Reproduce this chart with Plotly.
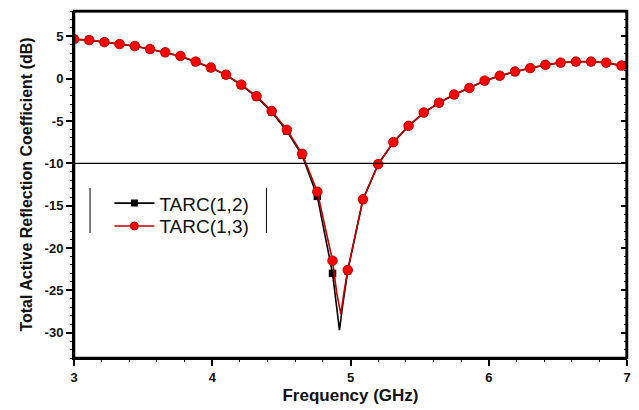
import plotly.graph_objects as go

# Frequency points where symbols are placed (GHz)
freq_marks = [3.00, 3.11, 3.22, 3.33, 3.44, 3.55, 3.66, 3.77, 3.88, 3.99,
              4.10, 4.21, 4.32, 4.43, 4.54, 4.65, 4.76, 4.87, 4.98, 5.09,
              5.20, 5.31, 5.42, 5.53, 5.64, 5.75, 5.86, 5.97, 6.08, 6.19,
              6.30, 6.41, 6.52, 6.63, 6.74, 6.85, 6.96]

# TARC(1,2) at the symbol points (dB)
tarc12_marks = [4.67, 4.56, 4.32, 4.09, 3.84, 3.48, 3.10, 2.66, 1.98, 1.28,
                0.42, -0.76, -2.14, -3.92, -6.18, -9.05, -13.9, -23.0, -22.7, -14.3,
                -10.1, -7.5, -5.6, -4.02, -2.86, -1.9, -1.12, -0.26, 0.33, 0.83,
                1.23, 1.62, 1.88, 2.0, 2.0, 1.88, 1.55]

# TARC(1,3) at the symbol points (dB)
tarc13_marks = [4.67, 4.56, 4.32, 4.09, 3.86, 3.50, 3.12, 2.69, 2.02, 1.32,
                0.47, -0.70, -2.07, -3.82, -6.04, -8.88, -13.35, -21.5, -22.6, -14.25,
                -10.1, -7.5, -5.57, -4.0, -2.84, -1.87, -1.09, -0.23, 0.35, 0.85,
                1.25, 1.64, 1.90, 2.02, 2.02, 1.90, 1.55]

# Extra curve samples around the resonance and the band edge
tarc12_extra_f = [4.90, 4.92, 4.945, 7.00]
tarc12_extra_v = [-27.0, -29.7, -26.6, 1.45]
tarc13_extra_f = [4.90, 4.93, 4.955, 7.00]
tarc13_extra_v = [-25.3, -27.8, -25.0, 1.45]

x_ticks = [3, 4, 5, 6, 7]
x_minor_ticks = [3.2, 3.4, 3.6, 3.8, 4.2, 4.4, 4.6, 4.8,
                 5.2, 5.4, 5.6, 5.8, 6.2, 6.4, 6.6, 6.8]
y_ticks = [-30, -25, -20, -15, -10, -5, 0, 5]
y_tick_text = ["-30", "-25", "-20", "-15", "-10", "-5", "0", "5"]
y_minor_ticks = [v for v in range(-33, 9) if v % 5 != 0]
x_range = [3, 7]
y_range = [-33, 8]
threshold_db = -10


def merged(f_main, v_main, f_extra, v_extra):
    pts = sorted(zip(list(f_main) + list(f_extra), list(v_main) + list(v_extra)))
    return [p[0] for p in pts], [p[1] for p in pts]


f12, v12 = merged(freq_marks, tarc12_marks, tarc12_extra_f, tarc12_extra_v)
f13, v13 = merged(freq_marks, tarc13_marks, tarc13_extra_f, tarc13_extra_v)

BLACK = "#000000"
RED_LINE = "#c00000"
RED_FILL = "#ff0000"
FONT = "Liberation Sans, Arial"

fig = go.Figure()

# hidden traces that carry the extra tick axes
for xa, ya in (("x2", "y"), ("x", "y2"), ("x", "y3"), ("x", "y4")):
    fig.add_trace(go.Scatter(x=x_range, y=y_range, xaxis=xa, yaxis=ya, mode="lines",
                             line=dict(width=0), opacity=0,
                             showlegend=False, hoverinfo="skip"))

# continuous curves and their symbols
fig.add_trace(go.Scatter(x=f12, y=v12, mode="lines",
                         line=dict(color=BLACK, width=1.6), showlegend=False))
fig.add_trace(go.Scatter(x=freq_marks, y=tarc12_marks, mode="markers",
                         marker=dict(symbol="square", size=7.5, color=BLACK),
                         showlegend=False))
fig.add_trace(go.Scatter(x=f13, y=v13, mode="lines",
                         line=dict(color=RED_LINE, width=1.6), showlegend=False))
fig.add_trace(go.Scatter(x=freq_marks, y=tarc13_marks, mode="markers",
                         marker=dict(symbol="circle", size=9.5, color=RED_FILL,
                                     line=dict(color=RED_LINE, width=1)),
                         showlegend=False))

# legend entries, one legend box each
fig.add_trace(go.Scatter(x=[None], y=[None], mode="lines+markers", name="TARC(1,2)",
                         line=dict(color=BLACK, width=1.6), legend="legend",
                         marker=dict(symbol="square", size=7, color=BLACK)))
fig.add_trace(go.Scatter(x=[None], y=[None], mode="lines+markers", name="TARC(1,3)",
                         line=dict(color=RED_LINE, width=1.6), legend="legend2",
                         marker=dict(symbol="circle", size=8, color=RED_FILL,
                                     line=dict(color=RED_LINE, width=1))))

# -10 dB reference line
fig.add_shape(type="line", xref="paper", x0=0, x1=1, yref="y",
              y0=threshold_db, y1=threshold_db, line=dict(color=BLACK, width=1.2))

# plot frame: top and right edges on the axis scales, plus a full box
fig.add_shape(type="line", xref="paper", x0=0, x1=1, yref="y",
              y0=y_range[1], y1=y_range[1], line=dict(color=BLACK, width=3))
fig.add_shape(type="line", xref="x", x0=x_range[1], x1=x_range[1], yref="paper",
              y0=0, y1=1, line=dict(color=BLACK, width=3))
fig.add_shape(type="rect", xref="paper", yref="paper", x0=0, x1=1, y0=0, y1=1,
              line=dict(color=BLACK, width=2.5), layer="above")

# side bars of the legend frame
for xp in (0.029, 0.348):
    fig.add_shape(type="line", xref="paper", yref="paper", x0=xp, x1=xp,
                  y0=0.36, y1=0.49, line=dict(color=BLACK, width=1))

tick_font = dict(family=FONT, size=13, color="#111111")
legend_font = dict(family=FONT, size=19, color="#111111")

bare = dict(showticklabels=False, showgrid=False, zeroline=False, showline=False,
            tickcolor=BLACK)

fig.update_layout(
    width=639, height=410,
    margin=dict(l=74, r=8, t=11, b=49),
    paper_bgcolor="white", plot_bgcolor="white",
    font=dict(family=FONT),
    legend=dict(x=0.064, y=0.446, xanchor="left", yanchor="middle",
                bgcolor="rgba(0,0,0,0)", borderwidth=0, font=legend_font,
                itemwidth=40),
    legend2=dict(x=0.064, y=0.38, xanchor="left", yanchor="middle",
                 bgcolor="rgba(0,0,0,0)", borderwidth=0, font=legend_font,
                 itemwidth=40),
    xaxis=dict(range=x_range, tickvals=x_ticks,
               ticktext=[f"<b>{t}</b>" for t in x_ticks],
               ticks="outside", ticklen=6, tickwidth=1.5, tickcolor=BLACK,
               showline=True, linecolor=BLACK, linewidth=2,
               showgrid=False, zeroline=False,
               tickfont=tick_font,
               title=dict(text="<b>Frequency (GHz)</b>",
                          font=dict(family=FONT, size=17, color="#111111"),
                          standoff=6)),
    xaxis2=dict(bare, range=x_range, overlaying="x", side="bottom", anchor="y",
                tickvals=x_minor_ticks, ticks="outside", ticklen=3, tickwidth=1.2),
    yaxis=dict(range=y_range, tickvals=y_ticks,
               ticktext=[f"<b>{t}</b>" for t in y_tick_text],
               ticks="outside", ticklen=6, tickwidth=1.5, tickcolor=BLACK,
               showline=True, linecolor=BLACK, linewidth=2,
               showgrid=False, zeroline=False,
               tickfont=tick_font,
               title=dict(text="<b>Total Active Reflection Coefficient (dB)</b>",
                          font=dict(family=FONT, size=16, color="#111111"),
                          standoff=8)),
    yaxis2=dict(bare, range=y_range, overlaying="y", side="left", anchor="x",
                tickvals=y_minor_ticks, ticks="outside", ticklen=3, tickwidth=1.2),
    yaxis3=dict(bare, range=y_range, overlaying="y", side="right", anchor="x",
                tickvals=y_ticks, ticks="inside", ticklen=6, tickwidth=1.5),
    yaxis4=dict(bare, range=y_range, overlaying="y", side="right", anchor="x",
                tickvals=y_minor_ticks, ticks="inside", ticklen=3, tickwidth=1.2),
)

fig.write_html("out.html")
